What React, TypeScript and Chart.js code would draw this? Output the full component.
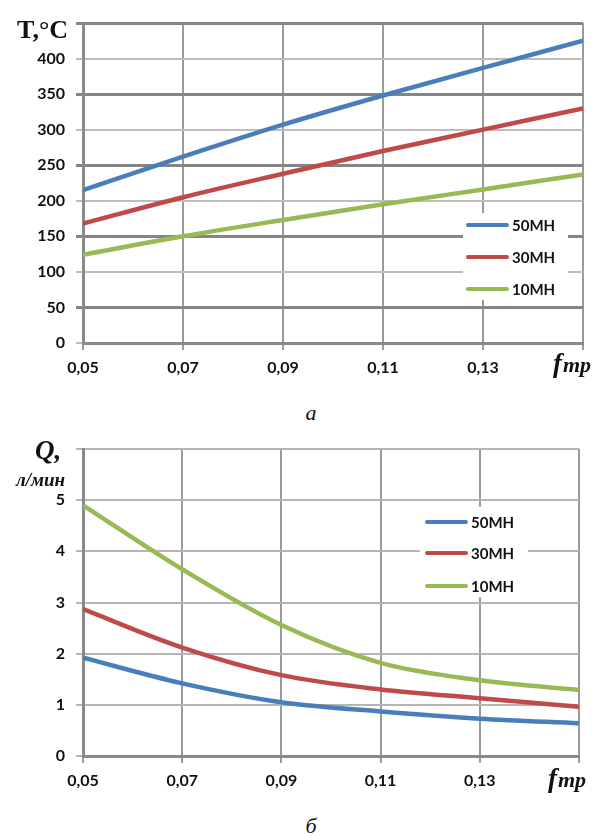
import React, { useEffect, useRef } from "react";
import { Chart, registerables } from "chart.js";

Chart.register(...registerables);

// ---- data ----
const fValues = [0.05, 0.07, 0.09, 0.11, 0.13, 0.15];
const xTickLabels = ["0,05", "0,07", "0,09", "0,11", "0,13", ""];
const seriesNames = ["50MH", "30MH", "10MH"];

const T50 = [215, 262, 307, 348, 387, 425];
const T30 = [168, 205, 238, 270, 300, 330];
const T10 = [124, 150, 173, 195, 216, 237];

const Q50 = [1.92, 1.42, 1.05, 0.87, 0.73, 0.64];
const Q30 = [2.87, 2.12, 1.58, 1.3, 1.13, 0.96];
const Q10 = [4.9, 3.65, 2.56, 1.82, 1.48, 1.29];

const tempTicksMax = 450;
const flowTicksMax = 6;

const colors = ["#4A7EBB", "#BE4B48", "#98B954"];

const tickFont = { family: "Lato", weight: "bold" as const, size: 16 };

function toPoints(ys: number[]) {
  return ys.map((y, i) => ({ x: fValues[i], y }));
}

function makeDatasets(series: number[][]) {
  return series.map((s, i) => ({
    label: seriesNames[i],
    data: toPoints(s),
    borderColor: colors[i],
    backgroundColor: colors[i],
    borderWidth: 4.5,
    pointRadius: 0,
    cubicInterpolationMode: "monotone" as const,
    fill: false,
  }));
}

type Deco = {
  legendBox: [number, number, number, number];
  legendX: number;
  legendYs: number[];
  title: (ctx: CanvasRenderingContext2D) => void;
  fLabel: [number, number];
};

function decoPlugin(d: Deco) {
  return {
    id: "deco",
    afterDraw(chart: any) {
      const ctx: CanvasRenderingContext2D = chart.ctx;
      ctx.save();
      // legend
      const [bx, by, bw, bh] = d.legendBox;
      ctx.fillStyle = "#ffffff";
      ctx.fillRect(bx, by, bw, bh);
      chart.data.datasets.forEach((ds: any, i: number) => {
        const y = d.legendYs[i];
        ctx.strokeStyle = ds.borderColor;
        ctx.lineWidth = 4;
        ctx.lineCap = "round";
        ctx.beginPath();
        ctx.moveTo(d.legendX, y);
        ctx.lineTo(d.legendX + 39, y);
        ctx.stroke();
        ctx.fillStyle = "#111";
        ctx.font = "bold 15px Lato";
        ctx.textAlign = "left";
        ctx.textBaseline = "middle";
        ctx.fillText(ds.label, d.legendX + 44, y + 1);
      });
      // axis titles
      d.title(ctx);
      ctx.fillStyle = "#111";
      ctx.textAlign = "left";
      ctx.textBaseline = "alphabetic";
      ctx.font = "italic bold 27px 'Liberation Serif'";
      ctx.fillText("f", d.fLabel[0], d.fLabel[1]);
      const fw = ctx.measureText("f").width;
      ctx.font = "italic bold 22px 'Liberation Serif'";
      ctx.fillText("тр", d.fLabel[0] + fw + 1, d.fLabel[1]);
      ctx.restore();
    },
  };
}

function buildConfig(
  series: number[][],
  yMax: number,
  yStep: number,
  yLabel: (v: number) => string,
  pad: { top: number; right: number },
  xAxisHeight: number,
  hColor: (v: number) => string,
  hWidth: (v: number) => number,
  deco: Deco
): any {
  return {
    type: "line",
    data: { datasets: makeDatasets(series) },
    plugins: [decoPlugin(deco)],
    options: {
      animation: false,
      responsive: false,
      maintainAspectRatio: false,
      layout: { padding: { top: pad.top, right: pad.right, left: 0, bottom: 0 } },
      plugins: { legend: { display: false }, tooltip: { enabled: false } },
      scales: {
        x: {
          type: "linear",
          min: fValues[0],
          max: fValues[fValues.length - 1],
          afterFit: (s: any) => {
            s.height = xAxisHeight;
          },
          ticks: {
            stepSize: 0.02,
            autoSkip: false,
            maxRotation: 0,
            padding: 8,
            font: tickFont,
            color: "#111",
            callback: (_v: any, i: number) => xTickLabels[i] ?? "",
          },
          grid: { color: "#9a9a9a", lineWidth: 2, tickLength: 7 },
          border: { color: "#8a8a8a", width: 3 },
        },
        y: {
          min: 0,
          max: yMax,
          afterFit: (s: any) => {
            s.width = 83;
          },
          ticks: {
            stepSize: yStep,
            padding: 11,
            font: tickFont,
            color: "#111",
            callback: (v: any) => yLabel(Number(v)),
          },
          grid: {
            tickLength: 7,
            color: (c: any) => hColor(c.tick ? c.tick.value : 0),
            lineWidth: (c: any) => hWidth(c.tick ? c.tick.value : 0),
          },
          border: { color: "#8a8a8a", width: 3 },
        },
      },
    },
  };
}

export default function App() {
  const refA = useRef<HTMLCanvasElement>(null);
  const refB = useRef<HTMLCanvasElement>(null);

  useEffect(() => {
    const chartA = new Chart(
      refA.current as HTMLCanvasElement,
      buildConfig(
        [T50, T30, T10],
        tempTicksMax,
        50,
        (v) => (v === tempTicksMax ? "" : String(v)),
        { top: 23, right: 13 },
        47,
        (v) => (v % 100 === 50 ? "#858585" : "#bdbdbd"),
        (v) => (v % 100 === 50 ? 3 : 2),
        {
          legendBox: [463, 213, 105, 87],
          legendX: 468,
          legendYs: [225, 257, 289],
          fLabel: [553, 372],
          title: (ctx) => {
            ctx.fillStyle = "#111";
            ctx.textAlign = "left";
            ctx.textBaseline = "alphabetic";
            ctx.font = "bold 26px 'Liberation Serif'";
            ctx.fillText("T,°C", 17, 38);
          },
        }
      )
    );
    const chartB = new Chart(
      refB.current as HTMLCanvasElement,
      buildConfig(
        [Q50, Q30, Q10],
        flowTicksMax,
        1,
        (v) => (v === flowTicksMax ? "" : String(v)),
        { top: 29, right: 17 },
        44,
        () => "#b5b5b5",
        () => 2,
        {
          legendBox: [420, 507 - 420, 108, 90],
          legendX: 427,
          legendYs: [522 - 420, 553 - 420, 586 - 420],
          fLabel: [548, 787 - 420],
          title: (ctx) => {
            ctx.fillStyle = "#111";
            ctx.textAlign = "left";
            ctx.textBaseline = "alphabetic";
            ctx.font = "italic bold 27px 'Liberation Serif'";
            ctx.fillText("Q,", 35, 459 - 420);
            ctx.font = "italic bold 19px 'Liberation Serif'";
            ctx.fillText("л/мин", 16, 486 - 420);
          },
        }
      )
    );
    return () => {
      chartA.destroy();
      chartB.destroy();
    };
  }, []);

  const caption: React.CSSProperties = {
    position: "absolute",
    left: 261,
    width: 100,
    textAlign: "center",
    fontFamily: "'Liberation Serif', serif",
    fontStyle: "italic",
    fontSize: 22,
    lineHeight: "25px",
    color: "#111",
  };

  return (
    <div style={{ position: "absolute", left: 0, top: 0, width: 596, height: 836, background: "#fff", overflow: "hidden" }}>
      <canvas ref={refA} width={596} height={390} style={{ position: "absolute", left: 0, top: 0 }} />
      <div style={{ ...caption, top: 400 }}>а</div>
      <canvas ref={refB} width={596} height={380} style={{ position: "absolute", left: 0, top: 420 }} />
      <div style={{ ...caption, top: 813 }}>б</div>
    </div>
  );
}
